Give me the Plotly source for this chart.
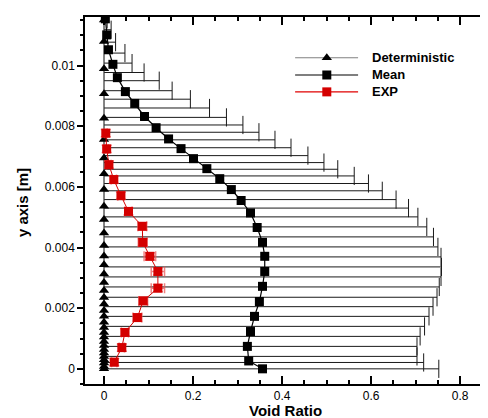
import plotly.graph_objects as go

# ---------------- data ----------------
mean_y = [0.01154, 0.01101, 0.01052, 0.01004, 0.00960, 0.00914, 0.00875, 0.00832,
          0.00795, 0.00758, 0.00726, 0.00693, 0.00660, 0.00627, 0.00591, 0.00555,
          0.00514, 0.00466, 0.00417, 0.00371, 0.00321, 0.00272, 0.00222, 0.00173,
          0.00123, 0.00074, 0.00026, 0.0]
mean_x = [0.003, 0.006, 0.010, 0.020, 0.030, 0.048, 0.069, 0.091,
          0.117, 0.145, 0.173, 0.201, 0.231, 0.260, 0.286, 0.308,
          0.329, 0.344, 0.356, 0.361, 0.361, 0.356, 0.349, 0.338,
          0.329, 0.322, 0.325, 0.356]

det_y = [0.01150, 0.01079, 0.00989, 0.00907, 0.00826, 0.00756, 0.00695, 0.00643,
         0.00591, 0.00536, 0.00492, 0.00448, 0.00407, 0.00372, 0.00343, 0.00313,
         0.00285, 0.00258, 0.00235, 0.00214, 0.00192, 0.00173, 0.00154, 0.00136,
         0.00120, 0.00105, 0.00090, 0.00077, 0.00064, 0.00052, 0.00041, 0.00030,
         0.00019, 0.00008, 0.0]
det_x = [0.0] * len(det_y)

# upper bound of the spread bars (bars drawn from 0 to the upper bound)
bar_y = [0.01152, 0.01118, 0.01077, 0.01041, 0.01008, 0.00977, 0.00950, 0.00917,
         0.00889, 0.00860, 0.00829, 0.00804, 0.00780, 0.00755, 0.00729, 0.00703,
         0.00680, 0.00658, 0.00636, 0.00611, 0.00587, 0.00558, 0.00530, 0.00501,
         0.00468, 0.00435, 0.00402, 0.00369, 0.00336, 0.00303, 0.00270, 0.00236,
         0.00205, 0.00173, 0.00140, 0.00107, 0.00074, 0.00041, 0.00021, 0.0]
bar_hi = [0.007, 0.016, 0.026, 0.047, 0.063, 0.090, 0.124, 0.153,
          0.194, 0.237, 0.275, 0.312, 0.348, 0.384, 0.420, 0.458,
          0.494, 0.525, 0.562, 0.594, 0.625, 0.656, 0.684, 0.705,
          0.725, 0.740, 0.750, 0.757, 0.758, 0.757, 0.753, 0.748,
          0.739, 0.730, 0.720, 0.710, 0.703, 0.703, 0.718, 0.752]

exp_y = [0.00777, 0.00725, 0.00673, 0.00624, 0.00571, 0.00519, 0.00470, 0.00417,
         0.00371, 0.00321, 0.00266, 0.00224, 0.00169, 0.00120, 0.00070, 0.00022]
exp_x = [0.004, 0.006, 0.011, 0.022, 0.038, 0.055, 0.086, 0.087,
         0.103, 0.121, 0.121, 0.088, 0.075, 0.047, 0.040, 0.023]
exp_xerr = [0.003, 0.004, 0.005, 0.006, 0.007, 0.008, 0.010, 0.010,
            0.013, 0.015, 0.015, 0.010, 0.010, 0.008, 0.006, 0.006]
exp_yerr = [0.00012] * len(exp_y)

legend_names = ["Deterministic", "Mean", "EXP"]
x_ticks = [0, 0.2, 0.4, 0.6, 0.8]
x_ticklabels = ["0", "0.2", "0.4", "0.6", "0.8"]
y_ticks = [0, 0.002, 0.004, 0.006, 0.008, 0.01]
y_ticklabels = ["0", "0.002", "0.004", "0.006", "0.008", "0.01"]

FONT = "Arial, Liberation Sans, sans-serif"

fig = go.Figure()

# spread bars: horizontal segment from 0 to upper bound
seg_x, seg_y = [], []
for yv, hv in zip(bar_y, bar_hi):
    seg_x += [0, hv, None]
    seg_y += [yv, yv, None]
fig.add_trace(go.Scatter(x=seg_x, y=seg_y, mode="lines",
                         line=dict(color="#1a1a1a", width=1),
                         hoverinfo="skip", showlegend=False))
# caps at the right end
fig.add_trace(go.Scatter(x=bar_hi, y=bar_y, mode="markers",
                         marker=dict(symbol="line-ns", size=13,
                                     line=dict(color="#1a1a1a", width=1)),
                         hoverinfo="skip", showlegend=False))

# Deterministic
fig.add_trace(go.Scatter(x=det_x, y=det_y, mode="lines+markers", name="Deterministic",
                         line=dict(color="#333333", width=1.2),
                         marker=dict(symbol="triangle-up", size=9, color="black"),
                         showlegend=False))
# Mean
fig.add_trace(go.Scatter(x=mean_x, y=mean_y, mode="lines+markers", name="Mean",
                         line=dict(color="black", width=1.2),
                         marker=dict(symbol="square", size=9, color="black"),
                         showlegend=False))
# EXP
fig.add_trace(go.Scatter(x=exp_x, y=exp_y, mode="lines+markers", name="EXP",
                         line=dict(color="#d40000", width=1),
                         marker=dict(symbol="square", size=9, color="#d40000"),
                         error_x=dict(type="data", array=exp_xerr, color="rgba(235,90,90,0.75)",
                                      thickness=1.5, width=5),
                         error_y=dict(type="data", array=exp_yerr, color="rgba(235,90,90,0.75)",
                                      thickness=1.5, width=5),
                         showlegend=False))

# ---------------- manual legend (overlay axes spanning the plot area) ----------------
leg_rows = [0.889, 0.842, 0.796]
leg_line_colors = ["#808080", "black", "#e00000"]
leg_symbols = ["triangle-up", "square", "square"]
leg_marker_colors = ["black", "black", "#d40000"]
for name, ry, lc, sym, mc in zip(legend_names, leg_rows, leg_line_colors, leg_symbols, leg_marker_colors):
    fig.add_trace(go.Scatter(x=[0.524, 0.681], y=[ry, ry], mode="lines",
                             line=dict(color=lc, width=1.2), xaxis="x2", yaxis="y2",
                             hoverinfo="skip", showlegend=False))
    fig.add_trace(go.Scatter(x=[0.603], y=[ry], mode="markers",
                             marker=dict(symbol=sym, size=9, color=mc), xaxis="x2", yaxis="y2",
                             hoverinfo="skip", showlegend=False))
    fig.add_annotation(x=0.711, y=ry, xref="paper", yref="paper", text="<b>%s</b>" % name,
                       showarrow=False, xanchor="left", yanchor="middle",
                       font=dict(family=FONT, size=13, color="black"))

# axis titles
fig.add_annotation(x=0.5, y=-0.071, xref="paper", yref="paper", text="<b>Void Ratio</b>",
                   showarrow=False, xanchor="center", yanchor="middle",
                   font=dict(family=FONT, size=15, color="black"))
fig.add_annotation(x=-0.157, y=0.493, xref="paper", yref="paper", text="<b>y axis [m]</b>",
                   showarrow=False, xanchor="center", yanchor="middle", textangle=-90,
                   font=dict(family=FONT, size=15, color="black"))

# page body has an 8px margin, so the figure is sized 480x410
fig.update_layout(
    width=480, height=410,
    margin=dict(l=77, r=2, t=9, b=34),
    paper_bgcolor="white", plot_bgcolor="white",
    font=dict(family=FONT, size=12, color="black"),
    showlegend=False,
    xaxis=dict(range=[-0.0427, 0.858], tickvals=x_ticks, ticktext=x_ticklabels,
               ticks="inside", ticklen=8, tickwidth=1.5, tickcolor="black",
               minor=dict(dtick=0.05, tick0=0, ticks="inside", ticklen=4, tickcolor="black"),
               showline=True, linecolor="black", linewidth=1.5, mirror="ticks",
               showgrid=False, zeroline=False, automargin=False,
               tickfont=dict(size=12)),
    yaxis=dict(range=[-0.0005, 0.0116], tickvals=y_ticks, ticktext=y_ticklabels,
               ticks="outside", ticklen=6, tickwidth=1.5, tickcolor="black",
               minor=dict(dtick=0.0005, tick0=0, ticks="outside", ticklen=3, tickcolor="black"),
               showline=True, linecolor="black", linewidth=1.5, mirror="ticks",
               showgrid=False, zeroline=False, automargin=False,
               tickfont=dict(size=12)),
    xaxis2=dict(overlaying="x", range=[0, 1], visible=False, fixedrange=True),
    yaxis2=dict(overlaying="y", range=[0, 1], visible=False, fixedrange=True),
)

fig.write_html("out.html")
